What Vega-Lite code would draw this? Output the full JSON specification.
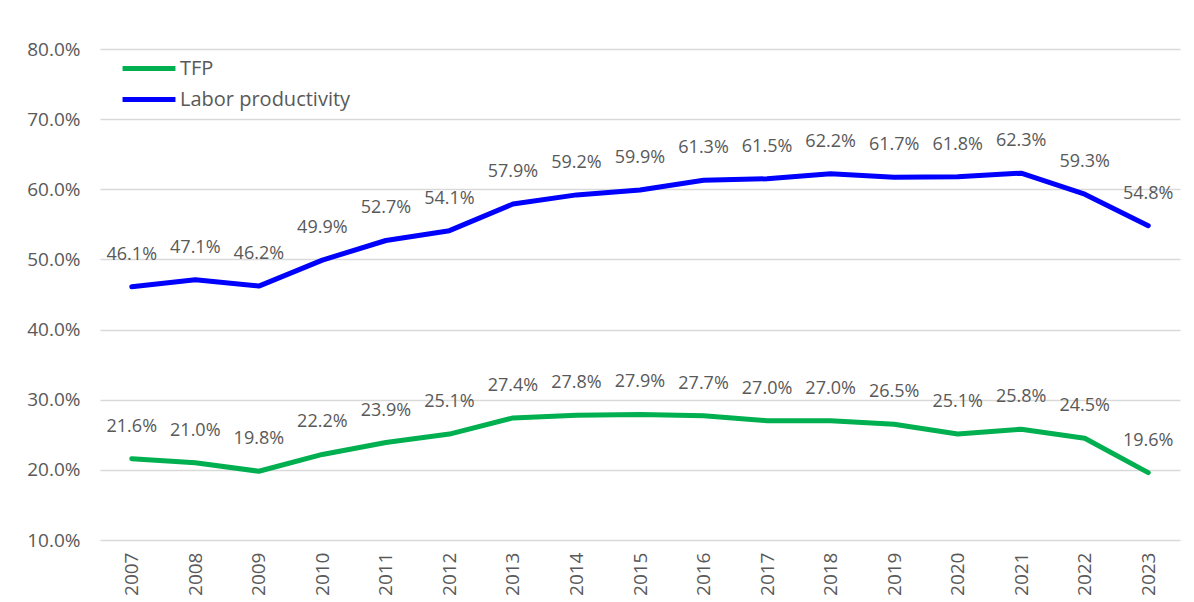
{
  "$schema": "https://vega.github.io/schema/vega-lite/v6.json",
  "width": 1080,
  "height": 491,
  "autosize": "none",
  "padding": {"left": 100, "top": 49, "right": 14, "bottom": 62},
  "background": "white",
  "config": {
    "view": {"stroke": null},
    "font": "Open Sans",
    "axis": {"labelFont": "Open Sans", "labelColor": "#595959", "labelFontSize": 19, "gridColor": "#D9D9D9", "gridWidth": 1.5, "domain": false, "ticks": false, "title": null}
  },
  "data": {
    "values": [
      {"year": "2007", "series": "TFP", "value": 0.216},
      {"year": "2008", "series": "TFP", "value": 0.210},
      {"year": "2009", "series": "TFP", "value": 0.198},
      {"year": "2010", "series": "TFP", "value": 0.222},
      {"year": "2011", "series": "TFP", "value": 0.239},
      {"year": "2012", "series": "TFP", "value": 0.251},
      {"year": "2013", "series": "TFP", "value": 0.274},
      {"year": "2014", "series": "TFP", "value": 0.278},
      {"year": "2015", "series": "TFP", "value": 0.279},
      {"year": "2016", "series": "TFP", "value": 0.277},
      {"year": "2017", "series": "TFP", "value": 0.270},
      {"year": "2018", "series": "TFP", "value": 0.270},
      {"year": "2019", "series": "TFP", "value": 0.265},
      {"year": "2020", "series": "TFP", "value": 0.251},
      {"year": "2021", "series": "TFP", "value": 0.258},
      {"year": "2022", "series": "TFP", "value": 0.245},
      {"year": "2023", "series": "TFP", "value": 0.196},
      {"year": "2007", "series": "Labor productivity", "value": 0.461},
      {"year": "2008", "series": "Labor productivity", "value": 0.471},
      {"year": "2009", "series": "Labor productivity", "value": 0.462},
      {"year": "2010", "series": "Labor productivity", "value": 0.499},
      {"year": "2011", "series": "Labor productivity", "value": 0.527},
      {"year": "2012", "series": "Labor productivity", "value": 0.541},
      {"year": "2013", "series": "Labor productivity", "value": 0.579},
      {"year": "2014", "series": "Labor productivity", "value": 0.592},
      {"year": "2015", "series": "Labor productivity", "value": 0.599},
      {"year": "2016", "series": "Labor productivity", "value": 0.613},
      {"year": "2017", "series": "Labor productivity", "value": 0.615},
      {"year": "2018", "series": "Labor productivity", "value": 0.622},
      {"year": "2019", "series": "Labor productivity", "value": 0.617},
      {"year": "2020", "series": "Labor productivity", "value": 0.618},
      {"year": "2021", "series": "Labor productivity", "value": 0.623},
      {"year": "2022", "series": "Labor productivity", "value": 0.593},
      {"year": "2023", "series": "Labor productivity", "value": 0.548}
    ]
  },
  "encoding": {
    "x": {"field": "year", "type": "ordinal", "scale": {"type": "point", "padding": 0.5}, "axis": {"labelAngle": -90, "labelPadding": 12, "grid": false}},
    "y": {"field": "value", "type": "quantitative", "scale": {"domain": [0.1, 0.8], "nice": false, "zero": false}, "axis": {"format": ".1%", "values": [0.1, 0.2, 0.3, 0.4, 0.5, 0.6, 0.7, 0.8], "labelPadding": 20}}
  },
  "layer": [
    {
      "mark": {"type": "line", "strokeWidth": 5, "strokeCap": "round", "strokeJoin": "round"},
      "encoding": {
        "color": {"field": "series", "type": "nominal", "scale": {"domain": ["TFP", "Labor productivity"], "range": ["#00B050", "#0000FF"]},
          "legend": {"title": null, "orient": "none", "legendX": 20, "legendY": 4, "symbolType": "stroke", "symbolStrokeWidth": 5, "symbolSize": 2800, "clipHeight": 31, "rowPadding": 0, "labelFontSize": 20, "labelLimit": 400, "labelColor": "#595959", "labelFont": "Open Sans", "labelOffset": 2, "padding": 0}}
      }
    },
    {
      "mark": {"type": "text", "fontSize": 18, "color": "#595959", "baseline": "middle", "dy": -32, "font": "Open Sans"},
      "encoding": {"text": {"field": "value", "type": "quantitative", "format": ".1%"}}
    }
  ]
}
